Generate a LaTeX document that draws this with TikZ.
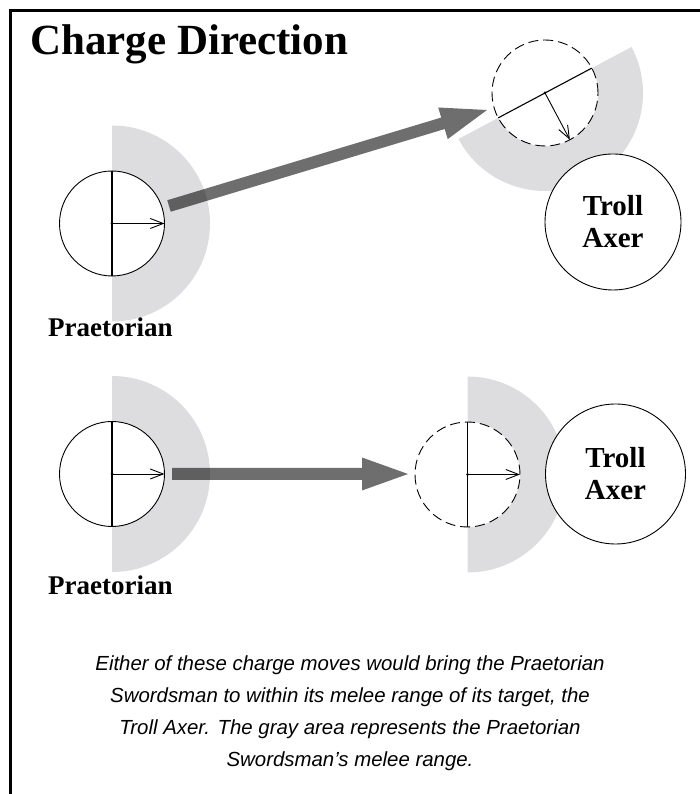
\documentclass[tikz,border=0pt]{standalone}
\usepackage{fontspec}
\setmainfont{Liberation Serif}
\newfontfamily\capfont{Liberation Sans}
\usetikzlibrary{arrows.meta,calc}
\definecolor{meleegray}{RGB}{221,221,223}
\newcommand\chargearrow[2]{%
  \coordinate (#1h) at ($(#2)!46pt!(#1)$);
  \draw[headhalo] ($(#1h)!16.5pt!90:(#2)$) -- (#2) -- ($(#1h)!16.5pt!-90:(#2)$) -- cycle;
  \fill[charge] ($(#1)!6pt!90:(#2)$) -- ($(#1h)!6pt!90:(#2)$) -- ($(#1h)!16.5pt!90:(#2)$) -- (#2)
    -- ($(#1h)!16.5pt!-90:(#2)$) -- ($(#1h)!6pt!-90:(#2)$) -- ($(#1)!6pt!-90:(#2)$) -- cycle;}
\begin{document}
\begin{tikzpicture}[x=1pt,y=1pt,
  token/.style={circle, draw=black, line width=0.9pt, fill=white, inner sep=0pt, outer sep=0pt},
  ghost/.style={token, dash pattern=on 10pt off 5pt},
  melee/.style={fill=meleegray},
  charge/.style={fill=black, fill opacity=0.57},
  headhalo/.style={draw=white, line width=5pt, line join=miter},
  facing/.style={line width=0.9pt, -{Straight Barb[length=13pt,width=10pt,line width=0.9pt]}},
  spine/.style={line width=1.1pt},
  unitlabel/.style={font=\bfseries\fontsize{27}{32}\selectfont, inner sep=0pt, anchor=base west},
  trollfont/.style={align=center, font=\bfseries\fontsize{29}{32}\selectfont},
]
\useasboundingbox (0,0) rectangle (700,794);

% frame
\draw[line width=3pt] (10,0) -- (10,783) -- (700,783);

% title
\node[anchor=base west, inner sep=0pt, font=\bfseries\fontsize{43}{50}\selectfont] (title) at (30,739) {Charge Direction};

% positions
\coordinate (p1c) at (112,570.5);
\coordinate (d1c) at (545,701);
\coordinate (p2c) at (112,320);
\coordinate (d2c) at (467.5,319.5);
\coordinate (a1s) at (169,588);
\coordinate (a1e) at (487,684);
\coordinate (a2s) at (172,320);
\coordinate (a2e) at (408,320);

% melee ranges
\fill[melee] ($(p1c)+(0,98)$) arc[start angle=90, end angle=-90, radius=98pt] -- cycle;
\fill[melee] ($(d1c)+(28:98pt)$) arc[start angle=28, end angle=-152, radius=98pt] -- cycle;
\fill[melee] ($(p2c)+(0,98)$) arc[start angle=90, end angle=-90, radius=98pt] -- cycle;
\fill[melee] ($(d2c)+(0,98)$) arc[start angle=90, end angle=-90, radius=98pt] -- cycle;

% charge arrows
\chargearrow{a1s}{a1e}
\chargearrow{a2s}{a2e}

% top scene
\node[token, minimum size=105pt] (p1) at (p1c) {};
\draw[spine] (p1.north) -- (p1.south);
\draw[facing] (p1.center) -- (p1.east);
\fill (p1.center) circle (1.5pt);
\node[unitlabel] (l1) at (48,457) {Praetorian};

\node[ghost, minimum size=106pt] (d1) at (d1c) {};
\draw[spine] (d1.28) -- (d1.-152);
\draw[facing] (d1.center) -- (d1.-62);
\fill (d1.center) circle (1.5pt);

\node[token, trollfont, minimum size=136pt] (t1) at (613,572) {Troll\\Axer};

% bottom scene
\node[token, minimum size=105pt] (p2) at (p2c) {};
\draw[spine] (p2.north) -- (p2.south);
\draw[facing] (p2.center) -- (p2.east);
\fill (p2.center) circle (1.5pt);
\node[unitlabel] (l2) at (48,199) {Praetorian};

\node[ghost, minimum size=105pt] (d2) at (d2c) {};
\draw[spine] (d2.north) -- (d2.south);
\draw[facing] (d2.center) -- (d2.east);
\fill (d2.center) circle (1.5pt);

\node[token, trollfont, minimum size=140pt] (t2) at (615.5,320) {Troll\\Axer};

% caption
\node[font=\capfont\itshape\fontsize{20.4}{32}\selectfont, align=center, inner sep=0pt] (cap) at (350,81)
  {Either of these charge moves would bring the Praetorian\\
   Swordsman to within its melee range of its target, the\\
   Troll Axer. The gray area represents the Praetorian\\
   Swordsman’s melee range.};
\end{tikzpicture}
\end{document}
